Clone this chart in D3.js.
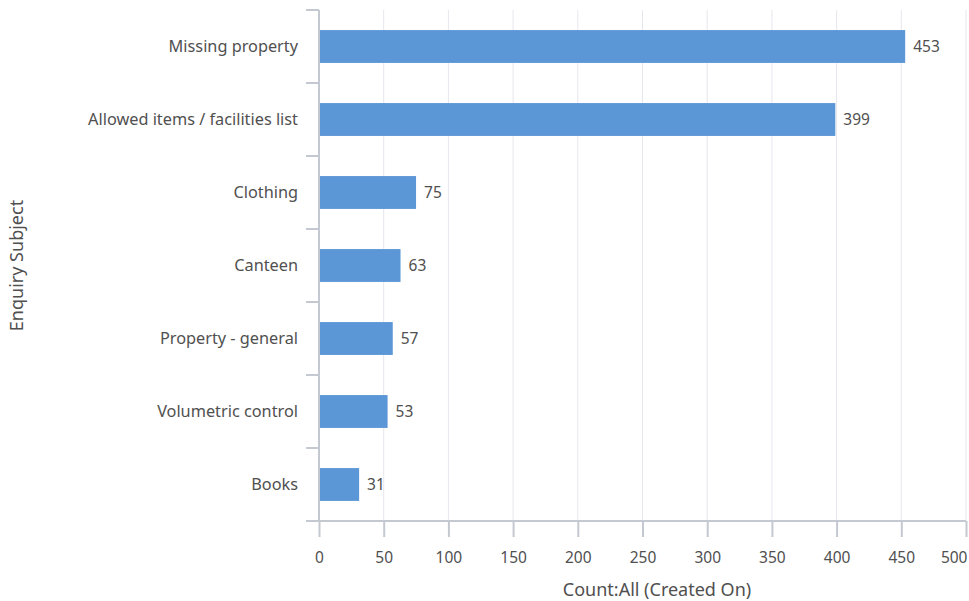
<!DOCTYPE html>
<html lang="en">
<head>
    <meta charset="UTF-8">
    <title>Enquiry Subject</title>
    <script src="https://d3js.org/d3.v7.min.js"></script>
    <style>
        body { margin: 0; background: #fff; }
        text { font-family: "Noto Sans", "Open Sans", sans-serif; fill: #505050; }
        .y-axis .tick text { font-size: 16.3px; }
        .x-axis .tick text { font-size: 15.5px; }
        .value { font-size: 15.5px; }
        .title { font-size: 18px; }
    </style>
</head>
<body>
<svg id="chart"></svg>
<script>
    const categories = ["Missing property", "Allowed items / facilities list", "Clothing",
        "Canteen", "Property - general", "Volumetric control", "Books"];
    const counts = [453, 399, 75, 63, 57, 53, 31];
    const xTicks = [0, 50, 100, 150, 200, 250, 300, 350, 400, 450, 500];

    const width = 969, height = 601;
    const margin = {top: 10, right: 3, bottom: 80, left: 319};

    const svg = d3.select("#chart")
        .attr("width", width)
        .attr("height", height);

    const x = d3.scaleLinear()
        .domain([0, 500])
        .range([margin.left, width - margin.right]);

    const y = d3.scaleBand()
        .domain(categories)
        .range([margin.top, height - margin.bottom])
        .paddingInner(0.55)
        .paddingOuter(0.275);

    // grid lines
    svg.append("g")
        .selectAll("line")
        .data(xTicks.slice(1))
        .join("line")
        .attr("x1", d => x(d)).attr("x2", d => x(d))
        .attr("y1", margin.top).attr("y2", height - margin.bottom)
        .attr("stroke", "#e6e6ee")
        .attr("stroke-width", 1);

    // bars
    svg.append("g")
        .selectAll("rect")
        .data(categories)
        .join("rect")
        .attr("x", x(0))
        .attr("y", d => y(d))
        .attr("width", (d, i) => x(counts[i]) - x(0))
        .attr("height", y.bandwidth())
        .attr("fill", "#5b96d6");

    // value labels
    svg.append("g")
        .selectAll("text")
        .data(categories)
        .join("text")
        .attr("class", "value")
        .attr("x", (d, i) => x(counts[i]) + 8)
        .attr("y", d => y(d) + y.bandwidth() / 2)
        .attr("dy", "0.35em")
        .text((d, i) => counts[i]);

    // x axis
    const xAxis = svg.append("g")
        .attr("class", "x-axis")
        .attr("transform", `translate(0,${height - margin.bottom})`)
        .call(d3.axisBottom(x).tickValues(xTicks).tickSize(16).tickPadding(15).tickSizeOuter(0));
    xAxis.select(".domain").remove();
    xAxis.append("line")
        .attr("x1", margin.left - 13).attr("x2", width - margin.right)
        .attr("stroke", "#c4c8d0").attr("stroke-width", 2);
    xAxis.selectAll(".tick line").attr("stroke", "#c4c8d0").attr("stroke-width", 2);
    // keep the last label inside the frame
    xAxis.selectAll(".tick text")
        .filter(d => d === xTicks[xTicks.length - 1])
        .attr("text-anchor", "end")
        .attr("x", 1);

    // y axis
    const yAxis = svg.append("g")
        .attr("class", "y-axis")
        .attr("transform", `translate(${margin.left},0)`)
        .call(d3.axisLeft(y).tickSize(0).tickPadding(21));
    yAxis.select(".domain").remove();
    yAxis.append("line")
        .attr("y1", margin.top).attr("y2", height - margin.bottom)
        .attr("stroke", "#c4c8d0").attr("stroke-width", 2);
    yAxis.selectAll(".sep")
        .data(d3.range(categories.length))
        .join("line")
        .attr("class", "sep")
        .attr("x1", -13).attr("x2", 0)
        .attr("y1", i => margin.top + i * y.step())
        .attr("y2", i => margin.top + i * y.step())
        .attr("stroke", "#c4c8d0").attr("stroke-width", 2);

    // titles
    svg.append("text")
        .attr("class", "title")
        .attr("transform", `translate(23,${(margin.top + height - margin.bottom) / 2}) rotate(-90)`)
        .attr("text-anchor", "middle")
        .text("Enquiry Subject");

    svg.append("text")
        .attr("class", "title")
        .attr("x", 657)
        .attr("y", 596)
        .attr("text-anchor", "middle")
        .text("Count:All (Created On)");
</script>
</body>
</html>
